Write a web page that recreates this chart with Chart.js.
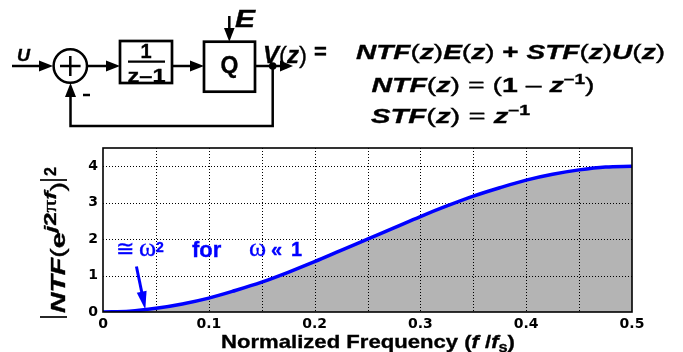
<!DOCTYPE html>
<html>
<head>
<meta charset="utf-8">
<script src="https://cdn.jsdelivr.net/npm/chart.js@4.4.1/dist/chart.umd.min.js"></script>
<style>
  html, body { margin:0; padding:0; background:#fff; width:683px; height:352px; overflow:hidden; }
  #c { position:absolute; left:0; top:0; }
  #ov { position:absolute; left:0; top:0; pointer-events:none; }
  text { font-family: "Liberation Sans", Arial, sans-serif; }
  .hv { stroke:#000; stroke-width:0.35px; }
  .hb { stroke:#0000ff; stroke-width:0.35px; }
</style>
</head>
<body>
<canvas id="c" width="683" height="352"></canvas>
<svg id="ov" width="683" height="352" xmlns="http://www.w3.org/2000/svg">
  <!-- block diagram -->
  <g stroke="#000" stroke-width="2.5" fill="none">
    <line x1="12" y1="66" x2="42" y2="66"/>
    <circle cx="70.3" cy="66" r="16.7"/>
    <line x1="60" y1="66" x2="80.6" y2="66"/>
    <line x1="70.3" y1="56" x2="70.3" y2="76"/>
    <line x1="83" y1="95" x2="90" y2="95"/>
    <line x1="87" y1="66" x2="110" y2="66"/>
    <rect x="120" y="41" width="52" height="42" stroke-width="2.7"/>
    <line x1="128" y1="61.7" x2="165" y2="61.7" stroke-width="2.2"/>
    <line x1="172" y1="66" x2="192" y2="66"/>
    <rect x="204" y="41.7" width="51" height="50" stroke-width="2.7"/>
    <line x1="229.3" y1="16" x2="229.3" y2="30"/>
    <line x1="255" y1="66" x2="281" y2="66"/>
    <polyline points="272.7,66 272.7,126 70.5,126 70.5,97"/>
  </g>
  <g fill="#000">
    <polygon points="53,66 39,60.5 39,71.5"/>
    <polygon points="120,66 106,60.5 106,71.5"/>
    <polygon points="204,66 190,60.5 190,71.5"/>
    <polygon points="229.3,41.7 224,28 234.6,28"/>
    <polygon points="293,66 280,60.5 280,71.5"/>
    <polygon points="70.5,83 65,97 76,97"/>
    <circle cx="272.7" cy="66" r="3.8"/>
  </g>
  <g fill="#000" font-weight="bold" class="hv">
    <text x="17" y="61" font-size="17" font-style="italic" textLength="13" lengthAdjust="spacingAndGlyphs">U</text>
    <text x="146" y="58" font-size="20" text-anchor="middle">1</text>
    <text x="127.5" y="81.5" font-size="19" textLength="38" lengthAdjust="spacingAndGlyphs">z–1</text>
    <text x="229.5" y="73" font-size="23" text-anchor="middle">Q</text>
    <text x="235" y="27" font-size="23" font-style="italic" textLength="20" lengthAdjust="spacingAndGlyphs">E</text>
    <text x="263" y="63" font-size="24" font-style="italic" textLength="44" lengthAdjust="spacingAndGlyphs">V<tspan font-style="normal" font-weight="normal">(</tspan>z<tspan font-style="normal" font-weight="normal">)</tspan></text>
    <text x="314" y="59" font-size="22">=</text>
    <text x="356" y="59" font-size="21" font-style="italic" textLength="309" lengthAdjust="spacingAndGlyphs">NTF<tspan font-style="normal" font-weight="normal">(</tspan>z<tspan font-style="normal" font-weight="normal">)</tspan>E<tspan font-style="normal" font-weight="normal">(</tspan>z<tspan font-style="normal" font-weight="normal">)</tspan><tspan font-style="normal"> + </tspan>STF<tspan font-style="normal" font-weight="normal">(</tspan>z<tspan font-style="normal" font-weight="normal">)</tspan>U<tspan font-style="normal" font-weight="normal">(</tspan>z<tspan font-style="normal" font-weight="normal">)</tspan></text>
    <text x="371.5" y="92" font-size="21" font-style="italic" textLength="223" lengthAdjust="spacingAndGlyphs">NTF<tspan font-style="normal" font-weight="normal">(</tspan>z<tspan font-style="normal" font-weight="normal">)  =  (</tspan><tspan font-style="normal">1</tspan><tspan font-style="normal" font-weight="normal"> – </tspan>z<tspan font-size="14" dy="-8" font-style="normal">–1</tspan><tspan font-style="normal" font-weight="normal" dy="8">)</tspan></text>
    <text x="371" y="123" font-size="21" font-style="italic" textLength="159" lengthAdjust="spacingAndGlyphs">STF<tspan font-style="normal" font-weight="normal">(</tspan>z<tspan font-style="normal" font-weight="normal">)  =  </tspan>z<tspan font-size="14" dy="-8" font-style="normal">–1</tspan></text>
  </g>
  <!-- y axis title -->
  <g transform="translate(65,317) rotate(-90)" fill="#000">
    <line x1="0" y1="2" x2="0" y2="-25" stroke="#000" stroke-width="1.7"/>
    <line x1="137" y1="2" x2="137" y2="-25" stroke="#000" stroke-width="1.7"/>
    <text class="hv" x="4" y="0" font-size="20" font-weight="bold" font-style="italic" textLength="131" lengthAdjust="spacingAndGlyphs">NTF<tspan font-style="normal" font-weight="normal">(</tspan><tspan font-style="normal">e</tspan><tspan dy="-9" font-size="17">j</tspan><tspan font-size="17" font-style="normal">2</tspan><tspan font-size="18" font-style="normal" font-weight="normal" style="font-family:'Liberation Serif',serif">π</tspan><tspan font-size="17">f</tspan><tspan dy="9" font-style="normal" font-weight="normal">)</tspan></text>
    <text class="hv" x="141" y="-9" font-size="16" font-weight="bold">2</text>
  </g>
  <!-- x axis title -->
  <text class="hv" x="221" y="348" font-size="19" font-weight="bold" textLength="294" lengthAdjust="spacingAndGlyphs">Normalized Frequency (<tspan font-style="italic">f </tspan>/<tspan font-style="italic">f</tspan><tspan font-size="14" dy="4">s</tspan><tspan dy="-4">)</tspan></text>
  <!-- annotation text -->
  <g fill="#0000ff" class="hb">
    <text x="116" y="256" font-size="22" style="font-family:'DejaVu Serif',serif">≅</text>
    <text x="139" y="256" font-size="26" style="font-family:'Liberation Serif',serif">ω</text>
    <text x="156" y="251.5" font-size="14" font-weight="bold">2</text>
    <text x="192" y="257" font-size="22" font-weight="bold">for</text>
    <text x="249" y="256" font-size="26" style="font-family:'Liberation Serif',serif">ω</text>
    <text x="271" y="256" font-size="20" font-weight="bold">«</text>
    <text x="291" y="256" font-size="20" font-weight="bold">1</text>
  </g>
</svg>
<script>
// ---- data ----
const freq = [0, 0.025, 0.05, 0.075, 0.1, 0.125, 0.15, 0.175, 0.2, 0.225, 0.25,
              0.275, 0.3, 0.325, 0.35, 0.375, 0.4, 0.425, 0.45, 0.475, 0.5];
const ntfMag = [0, 0.02, 0.10, 0.22, 0.38, 0.59, 0.82, 1.09, 1.38, 1.69, 2.00,
                2.31, 2.62, 2.91, 3.18, 3.41, 3.62, 3.78, 3.90, 3.98, 4.00];
const xTickLabels = ['0', '0.1', '0.2', '0.3', '0.4', '0.5'];
const yTickLabels = ['0', '1', '2', '3', '4'];
const arrowTail = {x: 0.0316, y: 1.25};
const arrowTip  = {x: 0.0400, y: 0.07};

const points = freq.map((f, i) => ({x: f, y: ntfMag[i]}));

const framePlugin = {
  id: 'frame',
  afterDatasetDraw(chart, args) {
    if (args.index !== 1) return;
    const ctx = chart.ctx, a = chart.chartArea;
    const xs = chart.scales.x, ys = chart.scales.y;
    ctx.save();
    ctx.strokeStyle = '#000';
    ctx.lineWidth = 1;
    ctx.setLineDash([1, 2]);
    xs.ticks.forEach(t => {
      if (t.value <= xs.min + 1e-9 || t.value >= xs.max - 1e-9) return;
      const px = Math.round(xs.getPixelForValue(t.value)) + 0.5;
      ctx.beginPath(); ctx.moveTo(px, a.top); ctx.lineTo(px, a.bottom); ctx.stroke();
    });
    ys.ticks.forEach(t => {
      if (t.value <= ys.min + 1e-9 || t.value >= ys.max - 1e-9) return;
      const py = Math.round(ys.getPixelForValue(t.value)) + 0.5;
      ctx.beginPath(); ctx.moveTo(a.left, py); ctx.lineTo(a.right, py); ctx.stroke();
    });
    ctx.restore();
  },
  afterDraw(chart) {
    const ctx = chart.ctx, a = chart.chartArea;
    const xs = chart.scales.x, ys = chart.scales.y;
    ctx.save();
    ctx.setLineDash([]);
    ctx.strokeStyle = '#000';
    ctx.lineWidth = 1.6;
    ctx.strokeRect(a.left, a.top, a.right - a.left, a.bottom - a.top);
    // annotation arrow
    const x1 = xs.getPixelForValue(arrowTail.x), y1 = ys.getPixelForValue(arrowTail.y);
    const x2 = xs.getPixelForValue(arrowTip.x), y2 = ys.getPixelForValue(arrowTip.y);
    const ang = Math.atan2(y2 - y1, x2 - x1);
    const hl = 18, hw = 5;
    const bx = x2 - hl * Math.cos(ang), by = y2 - hl * Math.sin(ang);
    ctx.strokeStyle = '#0000ff';
    ctx.fillStyle = '#0000ff';
    ctx.lineWidth = 3;
    ctx.beginPath(); ctx.moveTo(x1, y1); ctx.lineTo(bx + 2 * Math.cos(ang), by + 2 * Math.sin(ang)); ctx.stroke();
    ctx.beginPath();
    ctx.moveTo(x2, y2);
    ctx.lineTo(bx + hw * Math.sin(ang), by - hw * Math.cos(ang));
    ctx.lineTo(bx - hw * Math.sin(ang), by + hw * Math.cos(ang));
    ctx.closePath(); ctx.fill();
    ctx.restore();
  }
};

const tickFont = {family: 'DejaVu Sans', weight: 'bold', size: 14};

new Chart(document.getElementById('c'), {
  type: 'line',
  data: {
    datasets: [
      { data: points, borderColor: '#0000ff', borderWidth: 3.5, pointRadius: 0,
        fill: false, cubicInterpolationMode: 'monotone' },
      { data: points, borderWidth: 0, borderColor: 'rgba(0,0,0,0)', pointRadius: 0,
        fill: 'origin', backgroundColor: 'rgb(180,180,180)', cubicInterpolationMode: 'monotone' }
    ]
  },
  options: {
    responsive: false,
    animation: false,
    layout: { padding: { left: 0, top: 148, right: 51, bottom: 0 } },
    plugins: { legend: { display: false }, tooltip: { enabled: false } },
    scales: {
      x: {
        type: 'linear', min: 0, max: 0.5,
        grid: { display: false, drawTicks: false }, border: { display: false },
        ticks: {
          stepSize: 0.05, autoSkip: false, maxRotation: 0, padding: 4,
          color: '#000', font: tickFont,
          callback: v => {
            const k = Math.round(v * 10);
            return Math.abs(v * 10 - k) < 1e-6 ? xTickLabels[k] : '';
          }
        },
        afterFit: s => { s.height = 40; }
      },
      y: {
        type: 'linear', min: 0, max: 4.5,
        grid: { display: false, drawTicks: false }, border: { display: false },
        ticks: {
          stepSize: 0.5, padding: 5, color: '#000', font: tickFont,
          callback: v => Number.isInteger(v) ? yTickLabels[v] : ''
        },
        afterFit: s => { s.width = 103; }
      }
    }
  },
  plugins: [framePlugin]
});
</script>
</body>
</html>
